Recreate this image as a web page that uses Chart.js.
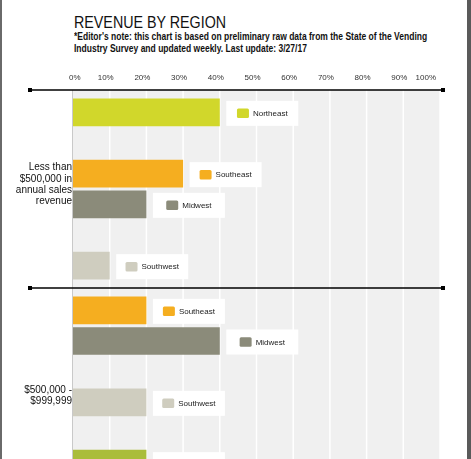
<!DOCTYPE html>
<html>
<head>
<meta charset="utf-8">
<script src="https://cdn.jsdelivr.net/npm/chart.js@4.4.1/dist/chart.umd.min.js"></script>
<style>
  html, body { margin: 0; padding: 0; background: #fff; }
  body { width: 471px; height: 459px; overflow: hidden; position: relative; }
  .frame-left { position: absolute; left: 0; top: 0; width: 1.5px; height: 459px; background: #6a6a6a; }
  .frame-right { position: absolute; left: 467px; top: 0; width: 4px; height: 459px; background: #5a5a5a; }
  h1 { position: absolute; left: 74px; top: 14px; margin: 0; white-space: nowrap;
       font: normal 17px/17px "Liberation Sans", Arial, sans-serif; color: #111;
       transform: scaleX(0.84); transform-origin: 0 0; }
  .note { position: absolute; left: 74px; top: 30px; margin: 0; white-space: nowrap;
          font: bold 10.5px/12.4px "Liberation Sans", Arial, sans-serif; color: #111;
          transform: scaleX(0.81); transform-origin: 0 0; }
  .band { position: absolute; left: 0; width: 471px; }
</style>
</head>
<body>
<div class="frame-left"></div>
<div class="frame-right"></div>
<h1>REVENUE BY REGION</h1>
<p class="note">*Editor's note: this chart is based on preliminary raw data from the State of the Vending<br>Industry Survey and updated weekly. Last update: 3/27/17</p>
<div class="band" style="top:52px;height:236px"><canvas id="bandA"></canvas></div>
<div class="band" style="top:280px;height:206px"><canvas id="bandB"></canvas></div>

<script>
// tick labels along the top
const tickValues = [0, 10, 20, 30, 40, 50, 60, 70, 80, 90, 100];

// revenue groups (left labels)
const groupLabels = [
    ['Less than', '$500,000 in', 'annual sales', 'revenue'],
    ['$500,000 -', '$999,999']
];

// each group is drawn as 6 rows, empty rows are null
const rowSlots = ['1', '2', '3', '4', '5', '6'];
const lessThan500kRegions = ['Northeast', null, 'Southeast', 'Midwest', null, 'Southwest'];
const lessThan500kValues = [40, null, 30, 20, null, 10];
const upTo999kRegions = ['Southeast', 'Midwest', null, 'Southwest', null, 'West'];
const upTo999kValues = [20, 40, null, 20, null, 20];

const regionColors = {
    Northeast: '#d1d72b',
    Southeast: '#f5ae20',
    Midwest: '#8b8b7a',
    Southwest: '#cfcdbf',
    West: '#aabd3b'
};

const PAD = 7;  // space above/below the rows inside a band

// gray band background, white grid, black separator line, group label
const bandPlugin = {
    id: 'band',
    beforeDatasetsDraw(chart, args, opts) {
        const ctx = chart.ctx;
        const area = chart.chartArea;
        const x = chart.scales.x;
        const top = area.top - PAD;
        const bottom = area.bottom + PAD;
        ctx.save();
        ctx.fillStyle = '#f0f0f0';
        ctx.fillRect(area.left, top, area.right - area.left, bottom - top);
        ctx.strokeStyle = '#ffffff';
        ctx.lineWidth = 1.5;
        tickValues.forEach(v => {
            if (v === 0) return;
            const px = x.getPixelForValue(v);
            ctx.beginPath();
            ctx.moveTo(px, top);
            ctx.lineTo(px, bottom);
            ctx.stroke();
        });
        // left axis
        ctx.strokeStyle = '#c9c9c9';
        ctx.lineWidth = 1;
        ctx.beginPath();
        ctx.moveTo(area.left - 0.5, top);
        ctx.lineTo(area.left - 0.5, bottom);
        ctx.stroke();
        ctx.restore();
    },
    afterDraw(chart, args, opts) {
        const ctx = chart.ctx;
        const area = chart.chartArea;
        const top = area.top - PAD;
        ctx.save();
        // separator
        ctx.strokeStyle = '#000';
        ctx.lineWidth = 1.5;
        ctx.beginPath();
        ctx.moveTo(30, top);
        ctx.lineTo(443, top);
        ctx.stroke();
        ctx.fillStyle = '#000';
        ctx.fillRect(28, top - 2, 4, 4);
        ctx.fillRect(441, top - 2, 4, 4);
        // group label
        const lines = opts.lines || [];
        const lh = 11.2;
        const mid = (area.top + area.bottom) / 2 + (opts.dy || 0);
        ctx.font = '10px "Liberation Sans", Arial, sans-serif';
        ctx.fillStyle = '#111';
        ctx.textAlign = 'right';
        ctx.textBaseline = 'middle';
        lines.forEach((t, i) => {
            ctx.fillText(t, 72, mid + (i - (lines.length - 1) / 2) * lh);
        });
        ctx.restore();
    }
};

// white tag with a colour chip and the region name next to each bar
const tagPlugin = {
    id: 'tags',
    afterDatasetsDraw(chart, args, opts) {
        const ctx = chart.ctx;
        const meta = chart.getDatasetMeta(0);
        const names = opts.regions;
        ctx.save();
        ctx.font = '8px "Liberation Sans", Arial, sans-serif';
        ctx.textBaseline = 'middle';
        ctx.textAlign = 'left';
        meta.data.forEach((bar, i) => {
            const name = names[i];
            if (!name) return;
            const bx = bar.x + 6.5;
            const cy = bar.y + 1;
            const w = 72, h = 25;
            ctx.fillStyle = '#fff';
            ctx.fillRect(bx, cy - h / 2, w, h);
            const tw = ctx.measureText(name).width;
            const contentW = 12 + 4 + tw;
            const cx0 = bx + (w - contentW) / 2;
            ctx.fillStyle = regionColors[name];
            ctx.beginPath();
            ctx.roundRect(cx0, cy - 4.75, 12, 9.5, 1.5);
            ctx.fill();
            ctx.fillStyle = '#222';
            ctx.fillText(name, cx0 + 16, cy + 0.5);
        });
        ctx.restore();
    }
};

function bandChart(id, regions, values, label, showTicks, padTop, dy) {
    return new Chart(document.getElementById(id), {
        type: 'bar',
        data: {
            labels: rowSlots,
            datasets: [{
                data: values,
                backgroundColor: regions.map(r => r ? regionColors[r] : 'transparent'),
                borderWidth: 0,
                barPercentage: 0.9,
                categoryPercentage: 1
            }]
        },
        options: {
            indexAxis: 'y',
            responsive: true,
            maintainAspectRatio: false,
            animation: false,
            layout: { padding: { left: 73, right: 31, top: padTop, bottom: PAD } },
            plugins: {
                legend: { display: false },
                tooltip: { enabled: false },
                band: { lines: label, dy: dy },
                tags: { regions: regions }
            },
            scales: {
                x: {
                    position: 'top',
                    min: 0,
                    max: 100,
                    display: showTicks,
                    border: { display: false },
                    grid: { display: false, drawTicks: false },
                    afterBuildTicks: s => { s.ticks = tickValues.map(v => ({ value: v })); },
                    afterFit: s => { s.height = showTicks ? 45 : 0; },
                    ticks: {
                        align: 'inner',
                        labelOffset: -4,
                        padding: 14,
                        color: '#333',
                        font: { family: '"Liberation Sans", Arial, sans-serif', size: 8 },
                        callback: v => v + '%'
                    }
                },
                y: { display: false }
            }
        },
        plugins: [bandPlugin, tagPlugin]
    });
}

bandChart('bandA', lessThan500kRegions, lessThan500kValues, groupLabels[0], true, 0, -4.5);
bandChart('bandB', upTo999kRegions, upTo999kValues, groupLabels[1], false, 8 + PAD, 9);
</script>
</body>
</html>
